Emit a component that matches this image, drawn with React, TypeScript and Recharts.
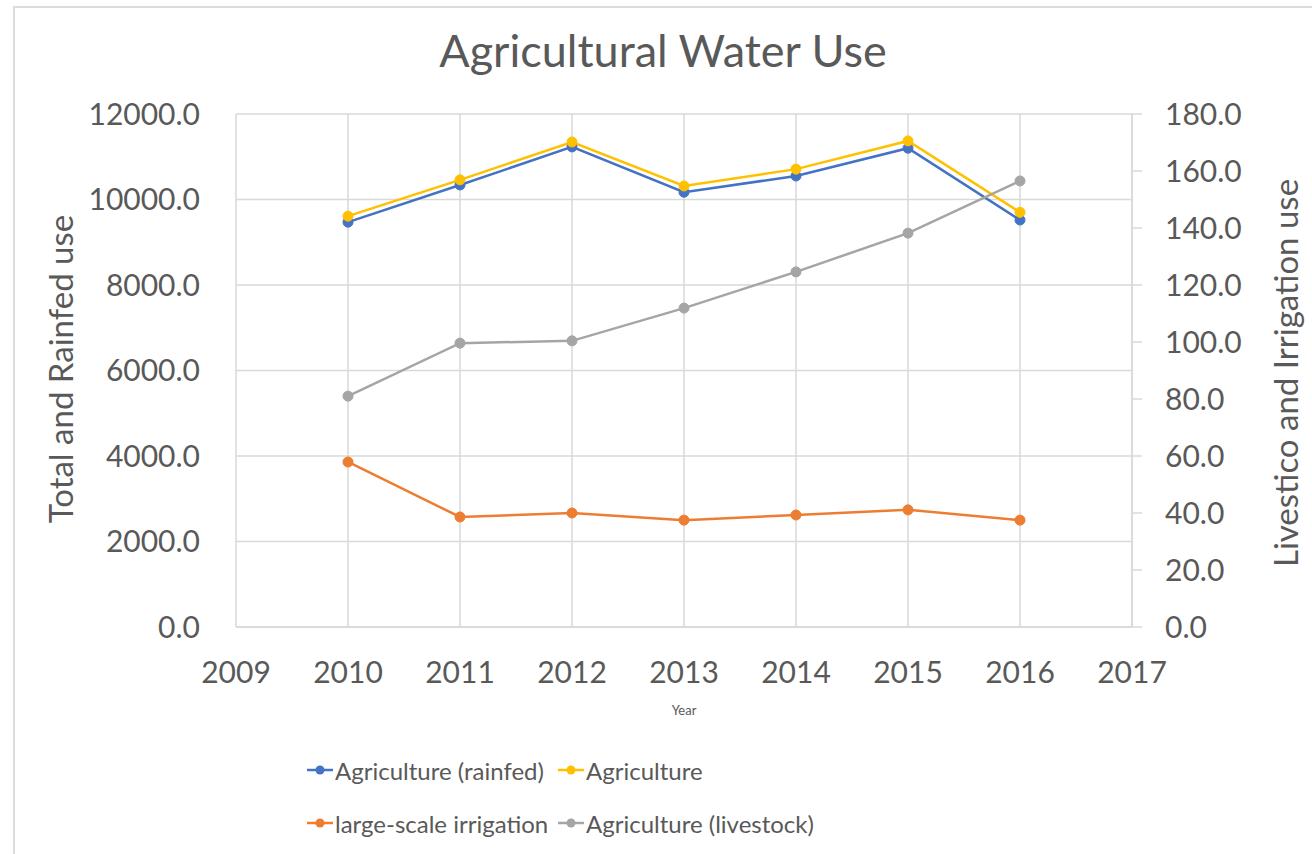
import { LineChart, Line, XAxis, YAxis, CartesianGrid } from 'recharts';

const years = [2010, 2011, 2012, 2013, 2014, 2015, 2016];
const rainfed = [9470, 10340, 11230, 10170, 10550, 11200, 9520];
const agriculture = [9610, 10460, 11345, 10315, 10710, 11370, 9700];
const irrigation = [57.9, 38.6, 40.0, 37.5, 39.3, 41.1, 37.5];
const livestock = [81.0, 99.6, 100.4, 111.9, 124.6, 138.2, 156.5];

const xTicks = [2009, 2010, 2011, 2012, 2013, 2014, 2015, 2016, 2017];
const leftTicks = [0, 2000, 4000, 6000, 8000, 10000, 12000];
const rightTicks = [0, 20, 40, 60, 80, 100, 120, 140, 160, 180];

const series = [
  { key: 'rainfed', name: 'Agriculture (rainfed)', color: '#4472C4', axis: 'left' },
  { key: 'agriculture', name: 'Agriculture', color: '#FFC000', axis: 'left' },
  { key: 'irrigation', name: 'large-scale irrigation', color: '#ED7D31', axis: 'right' },
  { key: 'livestock', name: 'Agriculture (livestock)', color: '#A5A5A5', axis: 'right' },
];

const data = years.map((year, i) => ({
  year,
  rainfed: rainfed[i],
  agriculture: agriculture[i],
  irrigation: irrigation[i],
  livestock: livestock[i],
}));

const FONT = 'Lato, "Open Sans", sans-serif';
const TEXT = '#595959';
const GRID = '#d9d9d9';

const fmt = (v: number) => v.toFixed(1);

export default function App() {
  return (
    <div style={{ position: 'absolute', left: 0, top: 0, width: 1312, height: 854, background: '#fff', fontFamily: FONT, overflow: 'hidden' }}>
      <div style={{ position: 'absolute', left: 13, top: 6, right: -2, bottom: -2, border: '2px solid #dcdcdc' }} />
      <LineChart
        width={1312}
        height={854}
        data={data}
        margin={{ top: 114, right: 0, bottom: 0, left: 0 }}
        style={{ position: 'absolute', left: 0, top: 0 }}
      >
        <CartesianGrid yAxisId="left" stroke={GRID} strokeWidth={1.5} />
        <XAxis
          dataKey="year"
          type="number"
          domain={[2009, 2017]}
          ticks={xTicks}
          height={227}
          tickLine={false}
          tickSize={0}
          tickMargin={35}
          axisLine={{ stroke: GRID, strokeWidth: 1.5 }}
          tick={{ fill: TEXT, fontSize: 30, fontFamily: FONT }}
        />
        <YAxis
          yAxisId="left"
          domain={[0, 12000]}
          ticks={leftTicks}
          width={236}
          axisLine={false}
          tickLine={false}
          tickSize={0}
          tickMargin={36}
          tickFormatter={fmt}
          tick={{ fill: TEXT, fontSize: 30, fontFamily: FONT }}
        />
        <YAxis
          yAxisId="right"
          orientation="right"
          domain={[0, 180]}
          ticks={rightTicks}
          width={180}
          axisLine={{ stroke: GRID, strokeWidth: 1.5 }}
          tickLine={{ stroke: GRID, strokeWidth: 1.5 }}
          tickSize={10}
          tickMargin={23}
          tickFormatter={fmt}
          tick={{ fill: TEXT, fontSize: 30, fontFamily: FONT, textAnchor: 'start' }}
        />
        {series.map((s) => (
          <Line
            key={s.key}
            yAxisId={s.axis}
            dataKey={s.key}
            name={s.name}
            stroke={s.color}
            strokeWidth={2.5}
            dot={{ r: 5, fill: s.color, stroke: s.color, strokeWidth: 1 }}
            isAnimationActive={false}
          />
        ))}
      </LineChart>

      <div style={{ position: 'absolute', left: 0, width: 1326, top: 23, textAlign: 'center', fontSize: 45, color: TEXT, whiteSpace: 'nowrap' }}>
        Agricultural Water Use
      </div>
      <div style={{ position: 'absolute', left: 60, top: 369, transform: 'translate(-50%, -50%) rotate(-90deg)', fontSize: 33, color: TEXT, whiteSpace: 'nowrap' }}>
        Total and Rainfed use
      </div>
      <div style={{ position: 'absolute', left: 1285, top: 373, transform: 'translate(-50%, -50%) rotate(-90deg)', fontSize: 33, color: TEXT, whiteSpace: 'nowrap' }}>
        Livestico and Irrigation use
      </div>
      <div style={{ position: 'absolute', left: 684, top: 710, transform: 'translate(-50%, -50%)', fontSize: 13, color: TEXT }}>
        Year
      </div>

      <div style={{ position: 'absolute', left: 307, top: 748, display: 'grid', gridTemplateColumns: '251px auto', rowGap: 9 }}>
        {series.map((s) => (
          <div key={s.key} style={{ display: 'flex', alignItems: 'center', height: 44, fontSize: 24, color: TEXT, whiteSpace: 'nowrap' }}>
            <svg width={26} height={12} style={{ marginRight: 2, flexShrink: 0 }}>
              <line x1={0} y1={6} x2={26} y2={6} stroke={s.color} strokeWidth={2.5} />
              <circle cx={13} cy={6} r={4.5} fill={s.color} />
            </svg>
            {s.name}
          </div>
        ))}
      </div>
    </div>
  );
}
